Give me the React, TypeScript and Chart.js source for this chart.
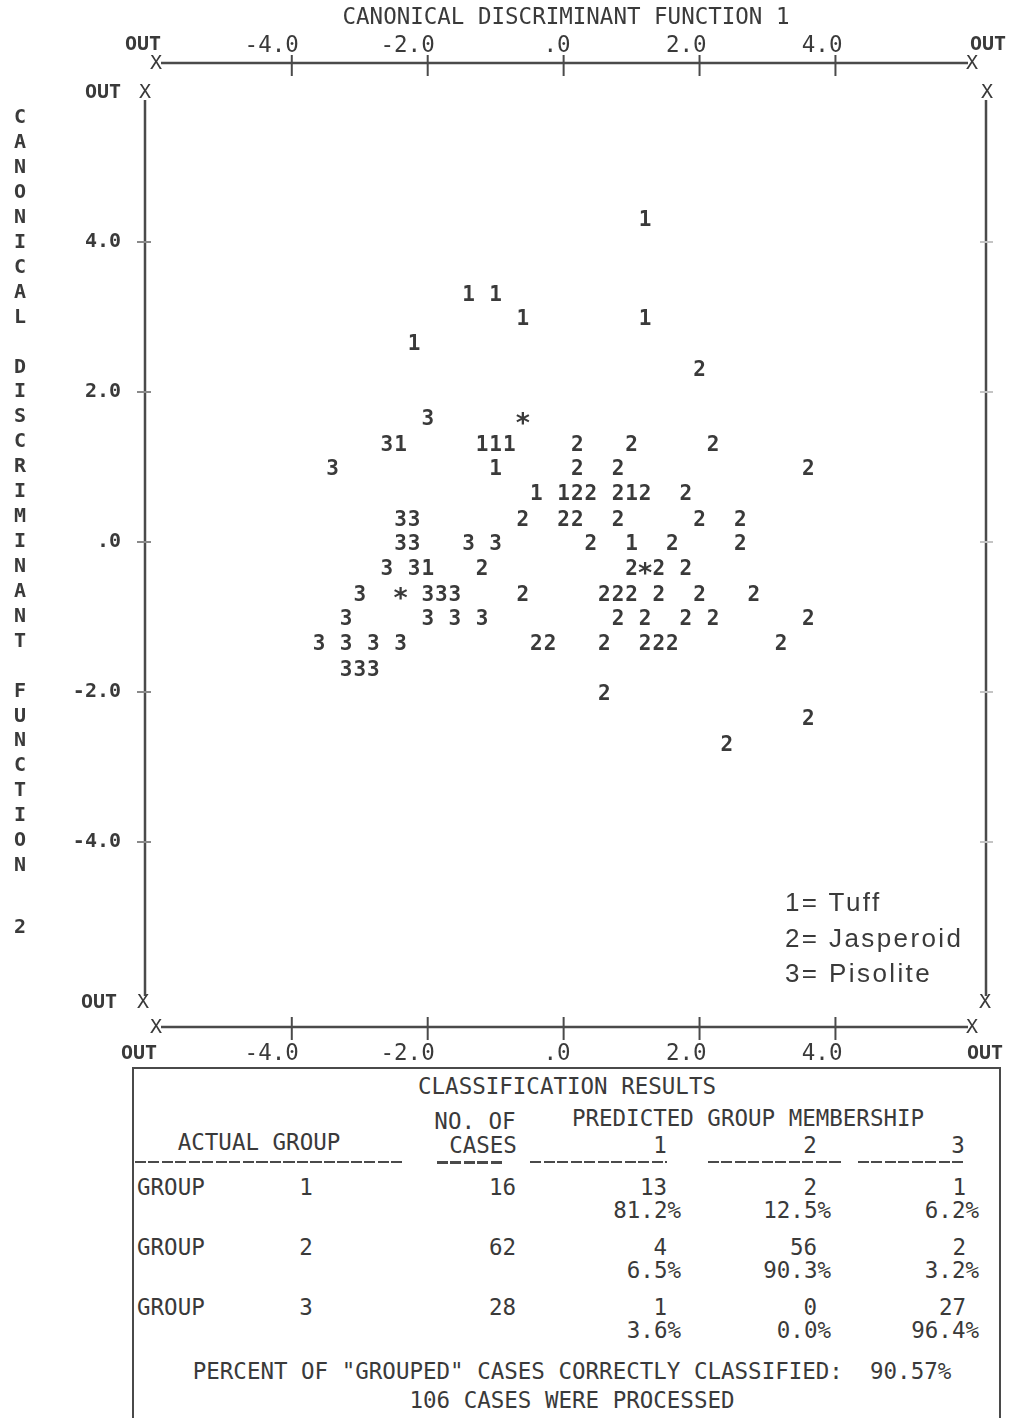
import React, { useEffect, useRef } from 'react';
import { Chart, registerables } from 'chart.js';

Chart.register(...registerables);

// ---------- data ----------
const X_TICKS = [-4, -2, 0, 2, 4];
const Y_TICKS = [4, 2, 0, -2, -4];
const X_MIN = -6.16;
const X_MAX = 6.23;
const Y_MIN = -6.467;
const Y_MAX = 6.387;

// Group 1 = Tuff
const GROUP1_TUFF: [number, number][] = [
  [1.2, 4.33],
  [-1.4, 3.33], [-1.0, 3.33],
  [-0.6, 3.0], [1.2, 3.0],
  [-2.2, 2.67],
  [-2.4, 1.33], [-1.2, 1.33], [-1.0, 1.33], [-0.8, 1.33],
  [-1.0, 1.0],
  [-0.4, 0.67], [0.0, 0.67], [1.0, 0.67],
  [1.0, 0.0],
  [-2.0, -0.33],
];

// Group 2 = Jasperoid
const GROUP2_JASPEROID: [number, number][] = [
  [2.0, 2.33],
  [0.2, 1.33], [1.0, 1.33], [2.2, 1.33],
  [0.2, 1.0], [0.8, 1.0], [3.6, 1.0],
  [0.2, 0.67], [0.4, 0.67], [0.8, 0.67], [1.2, 0.67], [1.8, 0.67],
  [-0.6, 0.33], [0.0, 0.33], [0.2, 0.33], [0.8, 0.33], [2.0, 0.33], [2.6, 0.33],
  [0.4, 0.0], [1.6, 0.0], [2.6, 0.0],
  [-1.2, -0.33], [1.0, -0.33], [1.4, -0.33], [1.8, -0.33],
  [-0.6, -0.67], [0.6, -0.67], [0.8, -0.67], [1.0, -0.67], [1.4, -0.67], [2.0, -0.67], [2.8, -0.67],
  [0.8, -1.0], [1.2, -1.0], [1.8, -1.0], [2.2, -1.0], [3.6, -1.0],
  [-0.4, -1.33], [-0.2, -1.33], [0.6, -1.33], [1.2, -1.33], [1.4, -1.33], [1.6, -1.33], [3.2, -1.33],
  [0.6, -2.0],
  [3.6, -2.33],
  [2.4, -2.67],
];

// Group 3 = Pisolite
const GROUP3_PISOLITE: [number, number][] = [
  [-2.0, 1.67],
  [-2.6, 1.33],
  [-3.4, 1.0],
  [-2.4, 0.33], [-2.2, 0.33],
  [-2.4, 0.0], [-2.2, 0.0], [-1.4, 0.0], [-1.0, 0.0],
  [-2.6, -0.33], [-2.2, -0.33],
  [-3.0, -0.67], [-2.0, -0.67], [-1.8, -0.67], [-1.6, -0.67],
  [-3.2, -1.0], [-2.0, -1.0], [-1.6, -1.0], [-1.2, -1.0],
  [-3.6, -1.33], [-3.2, -1.33], [-2.8, -1.33], [-2.4, -1.33],
  [-3.2, -1.67], [-3.0, -1.67], [-2.8, -1.67],
];

// Group centroids
const CENTROIDS: [number, number][] = [
  [-0.6, 1.67], [1.2, -0.33], [-2.4, -0.67],
];

const LEGEND_ITEMS = ['1= Tuff', '2= Jasperoid', '3= Pisolite'];

const X_TITLE = 'CANONICAL DISCRIMINANT FUNCTION 1';
const Y_TITLE_WORDS = 'CANONICAL DISCRIMINANT FUNCTION';
const Y_TITLE_NUM = '2';

// classification table
const GROUP_LABELS = ['1', '2', '3'];
const CASE_COUNTS = [16, 62, 28];
const PRED_COUNTS = [[13, 2, 1], [4, 56, 2], [1, 0, 27]];
const PRED_PCT = [['81.2%', '12.5%', '6.2%'], ['6.5%', '90.3%', '3.2%'], ['3.6%', '0.0%', '96.4%']];
const PCT_CORRECT = '90.57%';
const TOTAL_CASES = 106;

// ---------- styles ----------
const INK = '#3a3a3a';
const LINE = '#4a4a4a';
const MONO = '"DejaVu Sans Mono", monospace';

const tickFmt = (v: number) => (v === 0 ? '.0' : v.toFixed(1));

const xScale = (position: 'top' | 'bottom') => ({
  type: 'linear',
  axis: 'x',
  position,
  min: X_MIN,
  max: X_MAX,
  grid: { display: false, drawTicks: false },
  border: { display: false },
  afterBuildTicks: (s: any) => {
    s.ticks = X_TICKS.map((v) => ({ value: v }));
  },
  afterFit: (s: any) => {
    s.height = position === 'top' ? 63 : 39;
  },
  title:
    position === 'top'
      ? {
          display: true,
          text: X_TITLE,
          color: INK,
          font: { family: MONO, size: 22.5 },
          padding: { top: 4.5, bottom: 0 },
        }
      : { display: false },
  ticks: {
    callback: (v: any) => tickFmt(Number(v)),
    align: 'end',
    labelOffset: 7,
    maxRotation: 0,
    autoSkip: false,
    color: INK,
    font: { family: MONO, size: 22.5 },
    padding: position === 'top' ? 3 : 13.5,
  },
});

const decorations = {
  id: 'decorations',
  afterDatasetsDraw(chart: any) {
    const ctx = chart.ctx;
    ctx.save();
    ctx.fillStyle = INK;
    ctx.textAlign = 'center';
    ctx.textBaseline = 'middle';
    chart.data.datasets.forEach((ds: any, i: number) => {
      const meta = chart.getDatasetMeta(i);
      const isStar = ds.symbol === '*';
      ctx.font = isStar ? `bold 27px ${MONO}` : `bold 21px ${MONO}`;
      const dy = isStar ? 8 : 3;
      meta.data.forEach((el: any) => {
        ctx.fillText(ds.symbol, el.x, el.y + dy);
      });
    });
    ctx.restore();
  },
  afterDraw(chart: any) {
    const ctx = chart.ctx;
    const { left, right, top, bottom } = chart.chartArea;
    const xs = chart.scales.x;
    const ys = chart.scales.y;
    const line = (x1: number, y1: number, x2: number, y2: number) => {
      ctx.beginPath();
      ctx.moveTo(x1, y1);
      ctx.lineTo(x2, y2);
      ctx.stroke();
    };
    ctx.save();
    ctx.strokeStyle = LINE;
    ctx.fillStyle = INK;
    ctx.textAlign = 'center';
    ctx.textBaseline = 'middle';

    // horizontal axis lines (top & bottom)
    ctx.lineWidth = 2.5;
    [top, bottom].forEach((yy: number) => line(left + 16, yy, right - 19, yy));
    // tick crosses
    ctx.lineWidth = 2;
    X_TICKS.forEach((v) => {
      const px = xs.getPixelForValue(v);
      line(px, top - 8, px, top + 13);
      line(px, bottom - 10, px, bottom + 13);
    });
    // X end markers
    ctx.font = `20px ${MONO}`;
    [top, bottom].forEach((yy: number) => {
      ctx.fillText('X', left + 11, yy + 1);
      ctx.fillText('X', right - 15, yy + 1);
    });
    // OUT labels
    ctx.font = `bold 20px ${MONO}`;
    ctx.fillText('OUT', left - 2, top - 18);
    ctx.fillText('OUT', right + 1, top - 18);
    ctx.fillText('OUT', left - 6, bottom + 27);
    ctx.fillText('OUT', right - 2, bottom + 27);

    // frame verticals
    const fTop = top + 37;
    const fBot = bottom - 31;
    ctx.lineWidth = 2.5;
    line(left, fTop, left, fBot);
    line(right - 1, fTop, right - 1, fBot);
    ctx.font = `20px ${MONO}`;
    ctx.fillText('X', left, fTop - 7);
    ctx.fillText('X', right, fTop - 7);
    ctx.fillText('X', left - 2, fBot + 7);
    ctx.fillText('X', right - 2, fBot + 7);
    ctx.font = `bold 20px ${MONO}`;
    ctx.fillText('OUT', left - 42, fTop - 7);
    ctx.fillText('OUT', left - 46, fBot + 7);

    // y ticks on frame
    ctx.lineWidth = 2;
    Y_TICKS.forEach((v) => {
      const py = ys.getPixelForValue(v);
      ctx.strokeStyle = '#8a8a8a';
      line(left - 8, py, left + 6, py);
      ctx.strokeStyle = '#c4c4c4';
      line(right - 7, py, right + 6, py);
    });

    // stacked vertical y title
    ctx.font = `bold 20px ${MONO}`;
    ctx.fillStyle = INK;
    const step = 24.93;
    const y0 = 118;
    Y_TITLE_WORDS.split('').forEach((ch, i) => {
      if (ch !== ' ') ctx.fillText(ch, 20, y0 + step * i);
    });
    ctx.fillText(Y_TITLE_NUM, 20, y0 + step * 32.5);
    ctx.restore();
  },
};

type Anchor = 'left' | 'center' | 'right';
function Txt(props: {
  x: number;
  y: number;
  text: string;
  anchor?: Anchor;
  size?: number;
  weight?: number;
  font?: string;
  spacing?: number;
}) {
  const { x, y, text, anchor = 'center', size = 22.5, weight = 400, font = MONO, spacing = 0 } = props;
  const h = 28;
  const tx = anchor === 'left' ? '0' : anchor === 'center' ? '-50%' : '-100%';
  return (
    <div
      style={{
        position: 'absolute',
        left: x,
        top: y - h / 2,
        height: h,
        lineHeight: `${h}px`,
        transform: `translateX(${tx})`,
        whiteSpace: 'pre',
        fontFamily: font,
        fontSize: size,
        fontWeight: weight,
        color: INK,
        letterSpacing: spacing,
      }}
    >
      {text}
    </div>
  );
}

function Dash({ x1, x2, y, thick = 2 }: { x1: number; x2: number; y: number; thick?: number }) {
  return (
    <div
      style={{
        position: 'absolute',
        left: x1,
        top: y - thick / 2,
        width: x2 - x1,
        height: thick,
        background: `repeating-linear-gradient(90deg, ${LINE} 0 11px, transparent 11px 13.5px)`,
      }}
    />
  );
}

export default function App() {
  const ref = useRef<HTMLCanvasElement>(null);

  useEffect(() => {
    const canvas = ref.current as HTMLCanvasElement;
    const mk = (pts: [number, number][], symbol: string, label: string) => ({
      label,
      symbol,
      data: pts.map(([x, y]) => ({ x, y })),
      pointRadius: 0,
      pointHoverRadius: 0,
      showLine: false,
    });
    const chart = new Chart(canvas, {
      type: 'scatter',
      data: {
        datasets: [
          mk(GROUP1_TUFF, '1', 'Tuff'),
          mk(GROUP2_JASPEROID, '2', 'Jasperoid'),
          mk(GROUP3_PISOLITE, '3', 'Pisolite'),
          mk(CENTROIDS, '*', 'Centroids'),
        ] as any,
      },
      options: {
        responsive: false,
        animation: false,
        devicePixelRatio: 1,
        events: [],
        layout: { padding: { left: 0, right: 22, top: 0, bottom: 0 } },
        plugins: { legend: { display: false }, tooltip: { enabled: false } },
        scales: {
          x: xScale('bottom') as any,
          x2: xScale('top') as any,
          y: {
            type: 'linear',
            position: 'left',
            min: Y_MIN,
            max: Y_MAX,
            grid: { display: false, drawTicks: false },
            border: { display: false },
            afterBuildTicks: (s: any) => {
              s.ticks = Y_TICKS.map((v) => ({ value: v }));
            },
            afterFit: (s: any) => {
              s.width = 145;
            },
            ticks: {
              callback: (v: any) => tickFmt(Number(v)),
              autoSkip: false,
              color: INK,
              font: { family: MONO, size: 20, weight: 'bold' },
              padding: 24,
            },
          } as any,
        },
      },
      plugins: [decorations],
    });
    return () => chart.destroy();
  }, []);

  const rowY = [1187, 1247, 1307];
  const predCountRight = [667, 817, 966];
  const predPctRight = [681, 831, 979];
  const headerX = [660, 810, 958];

  return (
    <div
      style={{
        position: 'absolute',
        left: 0,
        top: 0,
        width: 1009,
        height: 1418,
        overflow: 'hidden',
        background: '#fff',
      }}
    >
      <canvas
        ref={ref}
        width={1009}
        height={1066}
        style={{ position: 'absolute', left: 0, top: 0, width: 1009, height: 1066 }}
      />

      {/* legend annotation */}
      {LEGEND_ITEMS.map((t, i) => (
        <Txt
          key={t}
          x={785}
          y={902 + i * 35.5}
          text={t}
          anchor="left"
          size={26}
          font='"Liberation Sans", Arial, sans-serif'
          spacing={2.4}
        />
      ))}

      {/* classification table box */}
      <div
        style={{
          position: 'absolute',
          left: 132,
          top: 1067,
          width: 865,
          height: 400,
          borderTop: `2px solid ${LINE}`,
          borderLeft: `2px solid ${LINE}`,
          borderRight: `2px solid ${LINE}`,
        }}
      />
      <Txt x={567} y={1086} text="CLASSIFICATION RESULTS" />
      <Txt x={475} y={1121} text="NO. OF" />
      <Txt x={483} y={1145} text="CASES" />
      <Txt x={748} y={1118} text="PREDICTED GROUP MEMBERSHIP" />
      <Txt x={259} y={1142} text="ACTUAL GROUP" />
      {GROUP_LABELS.map((g, i) => (
        <Txt key={'h' + g} x={headerX[i]} y={1145} text={g} />
      ))}
      <Dash x1={135} x2={405} y={1162} />
      <Dash x1={437} x2={502} y={1162} thick={3} />
      <Dash x1={530} x2={667} y={1162} />
      <Dash x1={708} x2={843} y={1162} />
      <Dash x1={858} x2={965} y={1162} />

      {GROUP_LABELS.map((g, r) => (
        <React.Fragment key={'row' + g}>
          <Txt x={137} y={rowY[r]} text="GROUP" anchor="left" />
          <Txt x={306} y={rowY[r]} text={g} />
          <Txt x={516} y={rowY[r]} text={String(CASE_COUNTS[r])} anchor="right" />
          {PRED_COUNTS[r].map((c, k) => (
            <Txt key={'c' + k} x={predCountRight[k]} y={rowY[r]} text={String(c)} anchor="right" />
          ))}
          {PRED_PCT[r].map((p, k) => (
            <Txt key={'p' + k} x={predPctRight[k]} y={rowY[r] + 23} text={p} anchor="right" />
          ))}
        </React.Fragment>
      ))}
      <Txt x={572} y={1371} text={`PERCENT OF "GROUPED" CASES CORRECTLY CLASSIFIED:  ${PCT_CORRECT}`} />
      <Txt x={572} y={1400} text={`${TOTAL_CASES} CASES WERE PROCESSED`} />
    </div>
  );
}
